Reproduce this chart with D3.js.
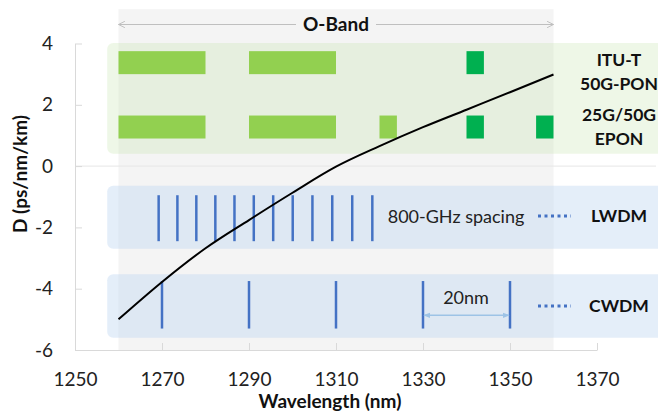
<!DOCTYPE html>
<html>
<head>
<meta charset="utf-8">
<script src="https://cdn.jsdelivr.net/npm/d3@7"></script>
<style>
  body { margin: 0; background: #fff; }
  svg { display: block; font-family: Lato, "Open Sans", sans-serif; }
  .axis path, .axis line { stroke: #d9d9d9; }
  .axis text { fill: #222; font-size: 19px; font-family: Lato, sans-serif; }
</style>
</head>
<body>
<div id="chart"></div>
<script>
// fibre dispersion curve
var wavelength = [1260, 1270, 1280, 1290, 1300, 1310, 1320, 1330, 1340, 1350, 1360];
var dispersion = [-5.0, -3.78, -2.68, -1.76, -0.87, -0.02, 0.65, 1.27, 1.84, 2.41, 2.99];

// channel plans
var lwdmChannels = [1269.23, 1273.54, 1277.89, 1282.26, 1286.66, 1291.10, 1295.56, 1300.05, 1304.58, 1309.14, 1313.73, 1318.35];
var cwdmChannels = [1270, 1290, 1310, 1330, 1350];
var oBand = [1260, 1360];

// PON wavelength windows: [from, to, direction]
var itutPon = [[1260, 1280, "up"], [1290, 1310, "up"], [1340, 1344, "down"]];
var epon = [[1260, 1280, "up"], [1290, 1310, "up"], [1320, 1324, "up"], [1340, 1344, "down"], [1356, 1360, "down"]];

var xTicks = [1250, 1270, 1290, 1310, 1330, 1350, 1370];
var yTicks = [-6, -4, -2, 0, 2, 4];

var width = 658, height = 415;

var svg = d3.select("#chart").append("svg")
    .attr("width", width)
    .attr("height", height);

var x = d3.scaleLinear().domain([1250, 1370]).range([75, 597]);
var y = d3.scaleLinear().domain([-6, 4]).range([350, 43.5]);

var blue = "#4472c4";

// O-band shading
svg.append("rect")
    .attr("x", x(oBand[0]))
    .attr("y", y(5.12))
    .attr("width", x(oBand[1]) - x(oBand[0]))
    .attr("height", y(-6) - y(5.12))
    .attr("fill", "#f4f4f4");

// light grid line at zero
svg.append("line")
    .attr("x1", x(1250)).attr("x2", 656)
    .attr("y1", y(0)).attr("y2", y(0))
    .attr("stroke", "#e6e6e6");

// axes
svg.append("g")
    .attr("class", "axis")
    .attr("transform", "translate(0," + y(-6) + ")")
    .call(d3.axisBottom(x).tickValues(xTicks).tickFormat(function (d) { return d; })
        .tickSize(-7).tickSizeOuter(0).tickPadding(23));

svg.append("g")
    .attr("class", "axis")
    .attr("transform", "translate(" + x(1250) + ",0)")
    .call(d3.axisLeft(y).tickValues(yTicks).tickFormat(function (d) { return d; })
        .tickSize(-7).tickSizeOuter(0).tickPadding(22));

svg.selectAll(".axis .domain").attr("stroke", "#d9d9d9");

// region boxes
function box(y0, y1, fill) {
    svg.append("rect")
        .attr("x", x(1257.4))
        .attr("y", y(y0))
        .attr("width", width + 10 - x(1257.4))
        .attr("height", y(y1) - y(y0))
        .attr("rx", 6)
        .attr("fill", fill);
}
box(4.02, 0.4, "rgba(200, 230, 175, 0.3)");
box(-0.64, -2.7, "rgba(190, 215, 240, 0.42)");
box(-3.53, -5.6, "rgba(190, 215, 240, 0.42)");

// PON bars
var greens = { up: "#92d050", down: "#00b050" };
function bars(data, top, bottom) {
    svg.append("g").selectAll("rect")
        .data(data)
        .enter()
        .append("rect")
        .attr("x", function (d) { return x(d[0]); })
        .attr("y", y(top))
        .attr("width", function (d) { return x(d[1]) - x(d[0]); })
        .attr("height", y(bottom) - y(top))
        .attr("fill", function (d) { return greens[d[2]]; });
}
bars(itutPon, 3.75, 3.0);
bars(epon, 1.65, 0.9);

// LWDM channels
svg.append("g").selectAll("line")
    .data(lwdmChannels)
    .enter()
    .append("line")
    .attr("x1", function (d) { return x(d); })
    .attr("x2", function (d) { return x(d); })
    .attr("y1", y(-0.95))
    .attr("y2", y(-2.45))
    .attr("stroke", blue)
    .attr("stroke-width", 2.5);

// CWDM channels
svg.append("g").selectAll("line")
    .data(cwdmChannels)
    .enter()
    .append("line")
    .attr("x1", function (d) { return x(d); })
    .attr("x2", function (d) { return x(d); })
    .attr("y1", y(-3.75))
    .attr("y2", y(-5.3))
    .attr("stroke", blue)
    .attr("stroke-width", 2.5);

// dispersion curve
var line = d3.line()
    .curve(d3.curveMonotoneX)
    .x(function (d, i) { return x(d); })
    .y(function (d, i) { return y(dispersion[i]); });

svg.append("path")
    .datum(wavelength)
    .attr("fill", "none")
    .attr("stroke", "#000")
    .attr("stroke-width", 2)
    .attr("d", line);

// arrow markers
var defs = svg.append("defs");
defs.append("marker")
    .attr("id", "openArrow")
    .attr("viewBox", "0 0 10 10")
    .attr("refX", 9).attr("refY", 5)
    .attr("markerWidth", 8).attr("markerHeight", 8)
    .attr("markerUnits", "userSpaceOnUse")
    .attr("orient", "auto-start-reverse")
    .append("path")
    .attr("d", "M1,1L9,5L1,9")
    .attr("fill", "none")
    .attr("stroke", "#bfbfbf")
    .attr("stroke-width", 1.2);
defs.append("marker")
    .attr("id", "blueArrow")
    .attr("viewBox", "0 0 10 10")
    .attr("refX", 9).attr("refY", 5)
    .attr("markerWidth", 7).attr("markerHeight", 7)
    .attr("markerUnits", "userSpaceOnUse")
    .attr("orient", "auto-start-reverse")
    .append("path")
    .attr("d", "M0,1L10,5L0,9Z")
    .attr("fill", "#9dc3e6");

// O-Band arrow + label
var bandY = y(4.62);
svg.append("line")
    .attr("x1", x(oBand[0])).attr("x2", 296)
    .attr("y1", bandY).attr("y2", bandY)
    .attr("stroke", "#bfbfbf").attr("stroke-width", 1.2)
    .attr("marker-start", "url(#openArrow)");
svg.append("line")
    .attr("x1", 376).attr("x2", x(oBand[1]))
    .attr("y1", bandY).attr("y2", bandY)
    .attr("stroke", "#bfbfbf").attr("stroke-width", 1.2)
    .attr("marker-end", "url(#openArrow)");
svg.append("text")
    .attr("x", (x(oBand[0]) + x(oBand[1])) / 2)
    .attr("y", bandY + 7)
    .attr("text-anchor", "middle")
    .attr("font-size", 19)
    .attr("font-weight", "bold")
    .attr("fill", "#111")
    .text("O-Band");

// 20nm spacing arrow
svg.append("line")
    .attr("x1", x(1330) + 1).attr("x2", x(1350) - 1)
    .attr("y1", y(-4.87)).attr("y2", y(-4.87))
    .attr("stroke", "#9dc3e6").attr("stroke-width", 1.5)
    .attr("marker-start", "url(#blueArrow)")
    .attr("marker-end", "url(#blueArrow)");
svg.append("text")
    .attr("x", 466).attr("y", 304)
    .attr("text-anchor", "middle")
    .attr("font-size", 18)
    .attr("fill", "#222")
    .text("20nm");

svg.append("text")
    .attr("x", 456).attr("y", 223)
    .attr("text-anchor", "middle")
    .attr("font-size", 18)
    .attr("fill", "#222")
    .text("800-GHz spacing");

// dotted legend keys
[216, 306].forEach(function (ly) {
    svg.append("line")
        .attr("x1", 538).attr("x2", 571)
        .attr("y1", ly).attr("y2", ly)
        .attr("stroke", blue)
        .attr("stroke-width", 3)
        .attr("stroke-dasharray", "3,3.5");
});

// right labels
var rightLabels = [["ITU-T", 66], ["50G-PON", 90], ["25G/50G", 121], ["EPON", 145], ["LWDM", 222], ["CWDM", 312]];
svg.append("g").selectAll("text")
    .data(rightLabels)
    .enter()
    .append("text")
    .attr("x", 619)
    .attr("y", function (d) { return d[1]; })
    .attr("text-anchor", "middle")
    .attr("font-size", 17.5)
    .attr("font-weight", "bold")
    .attr("fill", "#111")
    .text(function (d) { return d[0]; });

// axis titles
svg.append("text")
    .attr("x", 330).attr("y", 408)
    .attr("text-anchor", "middle")
    .attr("font-size", 19)
    .attr("font-weight", "bold")
    .attr("fill", "#111")
    .text("Wavelength (nm)");

svg.append("text")
    .attr("transform", "translate(27,174) rotate(-90)")
    .attr("text-anchor", "middle")
    .attr("font-size", 19)
    .attr("font-weight", "bold")
    .attr("fill", "#111")
    .text("D (ps/nm/km)");
</script>
</body>
</html>
